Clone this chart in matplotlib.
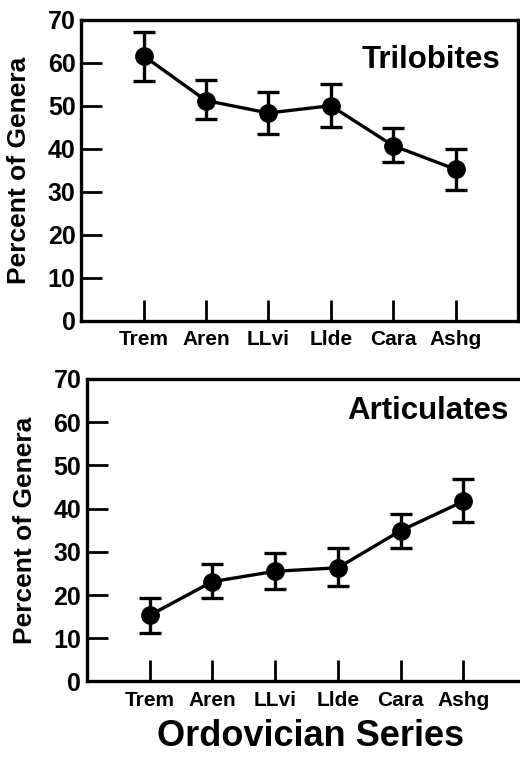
from matplotlib import pyplot as plt
import numpy as np

plt.rcParams['font.family'] = ['Liberation Sans', 'DejaVu Sans']
plt.rcParams['font.weight'] = 'bold'

# data
series = ["Trem", "Aren", "LLvi", "Llde", "Cara", "Ashg"]

trilo = [61.6, 51.2, 48.3, 50.0, 40.7, 35.2]
trilo_hi = [67.1, 56.0, 53.1, 55.0, 44.8, 39.9]
trilo_lo = [55.8, 46.8, 43.4, 45.1, 36.8, 30.5]

artic = [15.3, 23.1, 25.5, 26.3, 34.9, 41.7]
artic_hi = [19.4, 27.2, 29.7, 30.8, 38.7, 46.8]
artic_lo = [11.3, 19.4, 21.4, 22.2, 31.0, 36.8]

yticks = [0, 10, 20, 30, 40, 50, 60, 70]

fig = plt.figure(figsize=(5.2, 7.58), dpi=100)
ax1 = fig.add_axes([0.156, 0.577, 0.84, 0.397])
ax2 = fig.add_axes([0.167, 0.101, 0.845, 0.399])


def panel(ax, vals, hi, lo, name, ty):
    x = np.arange(1, len(series) + 1)
    v = np.array(vals)
    err = [v - np.array(lo), np.array(hi) - v]
    ax.errorbar(x, v, yerr=err, fmt='-o', color='black', lw=2.4,
                elinewidth=2.4, capsize=8, capthick=2.4, markersize=12.5)
    ax.set_xlim(0, 7)
    ax.set_ylim(0, 70)
    ax.set_yticks(yticks)
    ax.set_xticks(x)
    ax.set_xticklabels(series, fontsize=15, fontweight='bold')
    ax.set_yticklabels([str(t) for t in yticks], fontsize=18, fontweight='bold')
    ax.tick_params(axis='y', direction='in', length=15, width=2, pad=4)
    ax.tick_params(axis='x', direction='in', length=15, width=2, pad=7)
    for s in ax.spines.values():
        s.set_linewidth(2.4)
    ax.set_ylabel("Percent of Genera", fontsize=19, fontweight='bold', labelpad=12)
    ax.text(0.959, ty, name, transform=ax.transAxes, ha='right', va='center',
            fontsize=22.5, fontweight='bold')


panel(ax1, trilo, trilo_hi, trilo_lo, "Trilobites", 0.865)
panel(ax2, artic, artic_hi, artic_lo, "Articulates", 0.895)

fig.text(0.598, 0.028, "Ordovician Series", ha='center', va='center',
         fontsize=26, fontweight='bold')

fig.savefig("out.png", dpi=100)
